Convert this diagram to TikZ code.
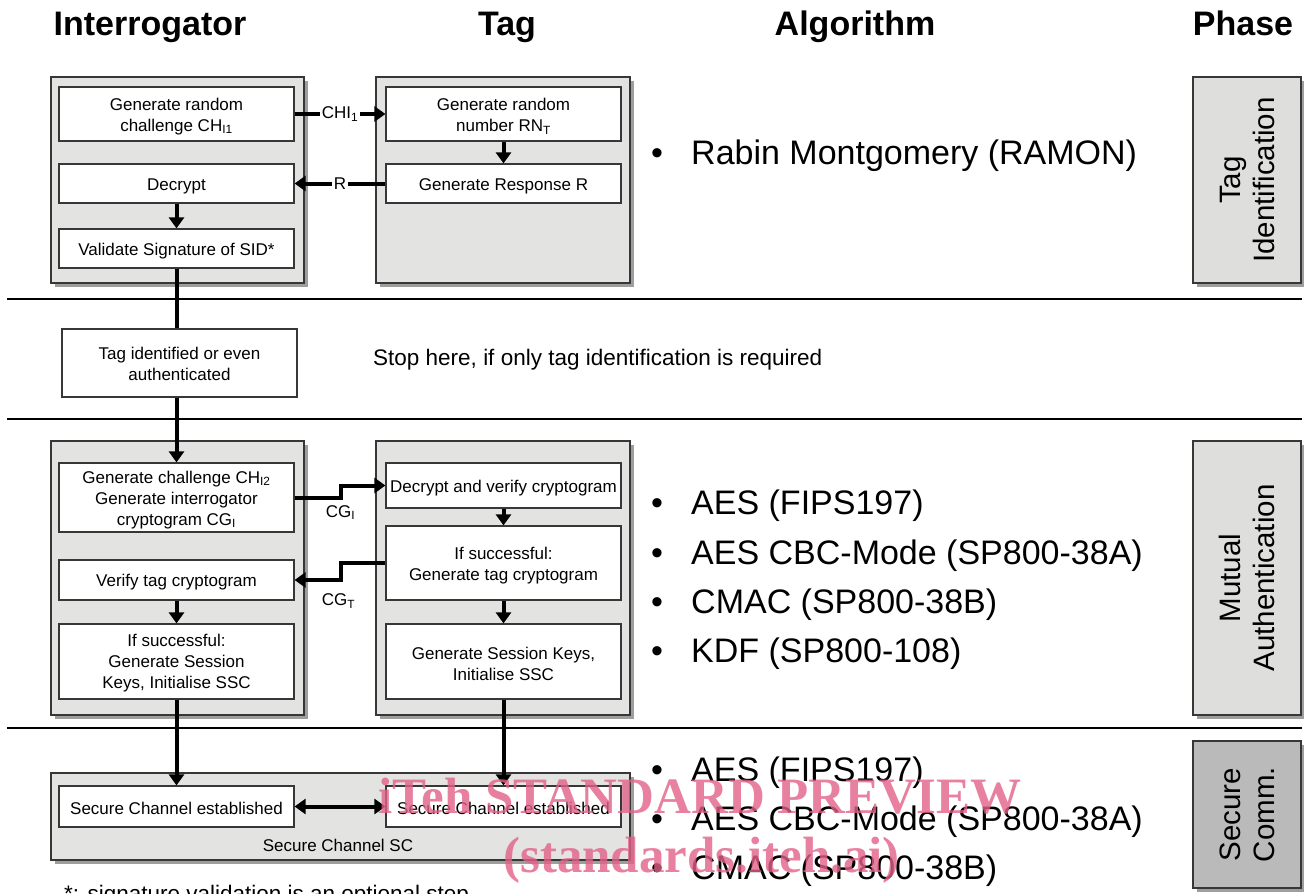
\documentclass[tikz,border=0pt]{standalone}
\usepackage{fontspec}
\setmainfont{Liberation Sans}
\newfontfamily\wmfont{Liberation Serif}
\usetikzlibrary{arrows.meta,shadows,calc}
\definecolor{panelgray}{RGB}{227,227,225}
\definecolor{phasegray}{RGB}{222,222,220}
\definecolor{phasedark}{RGB}{186,186,186}
\definecolor{edgegray}{RGB}{55,55,55}
\definecolor{wmpink}{RGB}{226,96,136}
\begin{document}
\begin{tikzpicture}[x=1pt,y=-1pt,
  panel/.style={draw=edgegray, line width=1.3pt, fill=panelgray, inner sep=0pt,
    drop shadow={shadow xshift=4pt, shadow yshift=-4pt, fill=black!38, opacity=1}},
  phasebox/.style={panel, minimum width=108pt},
  box/.style={draw=edgegray, line width=1.2pt, fill=white, inner sep=0pt, minimum width=235pt},
  btxt/.style={align=center, inner sep=0pt, font=\fontsize{17}{21}\selectfont},
  lbl/.style={fill=white, inner sep=2pt, font=\fontsize{17}{21}\selectfont},
  plainlbl/.style={inner sep=1pt, font=\fontsize{17}{21}\selectfont},
  head/.style={anchor=base, inner sep=0pt, font=\fontsize{34}{40}\selectfont\bfseries},
  alg/.style={anchor=base west, inner sep=0pt, font=\fontsize{34}{40}\selectfont},
  bul/.style={anchor=base, inner sep=0pt, font=\fontsize{34}{40}\selectfont},
  phasetxt/.style={rotate=90, align=center, inner sep=0pt, font=\fontsize{29.5}{34}\selectfont},
  note/.style={anchor=base west, inner sep=0pt, font=\fontsize{22.5}{27}\selectfont},
  sep/.style={line width=2pt},
  conn/.style={line width=4pt},
  arr/.style={conn, -{Triangle[width=15pt,length=11pt]}},
  darr/.style={conn, {Triangle[width=15pt,length=11pt]}-{Triangle[width=15pt,length=11pt]}},
  wm/.style={anchor=base west, inner sep=0pt, text=wmpink, text opacity=0.8,
    font=\wmfont\bfseries\fontsize{51}{51}\selectfont}
]
\useasboundingbox (0,0) rectangle (1304,894);

% headers
\node[head] (hI) at (150,35) {Interrogator};
\node[head] (hT) at (507,35) {Tag};
\node[head] (hA) at (855,35) {Algorithm};
\node[head] (hP) at (1243,35) {Phase};

% separators
\draw[sep] (7,299) -- (1302,299);
\draw[sep] (7,419) -- (1302,419);
\draw[sep] (7,728) -- (1302,728);

% panels
\node[panel, minimum width=253pt, minimum height=206pt] (pI1) at (177.5,180) {};
\node[panel, minimum width=254pt, minimum height=206pt] (pT1) at (503,180) {};
\node[panel, minimum width=253pt, minimum height=274pt] (pI2) at (177.5,578) {};
\node[panel, minimum width=254pt, minimum height=274pt] (pT2) at (503,578) {};
\node[panel, minimum width=579pt, minimum height=87pt] (pSC) at (340.5,816.5) {};

% phase boxes
\node[phasebox, fill=phasegray, minimum height=206pt] (ph1) at (1247,180) {};
\node[phasebox, fill=phasegray, minimum height=274pt] (ph2) at (1247,578) {};
\node[phasebox, fill=phasedark, minimum height=147pt] (ph3) at (1247,814.5) {};
\node[phasetxt] (ph1t) at (ph1) {Tag\\Identification};
\node[phasetxt] (ph2t) at (ph2) {Mutual\\Authentication};
\node[phasetxt] (ph3t) at (ph3) {Secure\\Comm.};

% tag identification boxes
\node[box, minimum height=54pt] (b1) at (176.5,114) {};
\node[box, minimum height=39pt] (b2) at (176.5,183.5) {};
\node[box, minimum height=39pt] (b3) at (176.5,248.5) {};
\node[box, minimum height=54pt] (t1) at (503.5,114) {};
\node[box, minimum height=39pt] (t2) at (503.5,183.5) {};
\node[box, minimum height=68pt] (tid) at (179.5,363) {};
\node[btxt] (b1t) at ($(b1)+(0,2.5)$) {Generate random\\challenge CH\textsubscript{I1}};
\node[btxt] (b2t) at ($(b2)+(0,2.5)$) {Decrypt};
\node[btxt] (b3t) at ($(b3)+(0,2.5)$) {Validate Signature of SID*};
\node[btxt] (t1t) at ($(t1)+(0,2.5)$) {Generate random\\number RN\textsubscript{T}};
\node[btxt] (t2t) at ($(t2)+(0,2.5)$) {Generate Response R};
\node[btxt] (tidt) at ($(tid)+(0,1)$) {Tag identified or even\\authenticated};
\node[note, anchor=west] (stop) at (373,360) {Stop here, if only tag identification is required};

% mutual authentication boxes
\node[box, minimum height=69pt] (c1) at (176.5,497.5) {};
\node[box, minimum height=40pt] (c2) at (176.5,580) {};
\node[box, minimum height=75pt] (c3) at (176.5,661.5) {};
\node[box, minimum height=45pt] (d1) at (503.5,485.5) {};
\node[box, minimum height=74pt] (d2) at (503.5,563) {};
\node[box, minimum height=75pt] (d3) at (503.5,661.5) {};
\node[btxt] (c1t) at ($(c1)+(0,2.5)$) {Generate challenge CH\textsubscript{I2}\\Generate interrogator\\cryptogram CG\textsubscript{I}};
\node[btxt] (c2t) at ($(c2)+(0,2.5)$) {Verify tag cryptogram};
\node[btxt] (c3t) at ($(c3)+(0,2)$) {If successful:\\Generate Session\\Keys, Initialise SSC};
\node[btxt] (d1t) at ($(d1)+(0,2.5)$) {Decrypt and verify cryptogram};
\node[btxt] (d2t) at ($(d2)+(0,2.5)$) {If successful:\\Generate tag cryptogram};
\node[btxt] (d3t) at ($(d3)+(0,2)$) {Generate Session Keys,\\Initialise SSC};

% secure channel
\node[box, minimum height=41pt] (s1) at (176.5,806.5) {};
\node[box, minimum height=41pt] (s2) at (503.5,806.5) {};
\node[btxt] (s1t) at ($(s1)+(0,2)$) {Secure Channel established};
\node[btxt] (s2t) at ($(s2)+(0,2)$) {Secure Channel established};
\node[plainlbl] (sclbl) at (338,845) {Secure Channel SC};

% connectors
\draw[arr] (b1.east) -- node[lbl] (chil) {CHI\textsubscript{1}} (t1.west);
\draw[arr] (t2.west) -- node[lbl] (rl) {R} (b2.east);
\draw[arr] (t1.south) -- (t2.north);
\draw[arr] (b2.south) -- (b3.north);
\draw[conn] (b3.south) -- (b3.south |- tid.north);
\draw[arr] (tid.south -| c1.north) -- (c1.north);
\draw[arr] (c1.east) -- ++(46,0) |- (d1.west);
\node[plainlbl] (cgi) at ($(c1.east)+(46,15)$) {CG\textsubscript{I}};
\draw[arr] (d2.west) -- ++(-44,0) |- (c2.east);
\node[plainlbl] (cgt) at ($(c2.east)+(44,21)$) {CG\textsubscript{T}};
\draw[arr] (c2.south) -- (c3.north);
\draw[arr] (d1.south) -- (d2.north);
\draw[arr] (d2.south) -- (d3.north);
\draw[arr] (c3.south) -- (s1.north);
\draw[arr] (d3.south) -- (s2.north);
\draw[darr] (s1.east) -- (s2.west);

% algorithms
\node[bul] (u1) at (657,164) {•};
\node[alg] (a1) at (691,164) {Rabin Montgomery (RAMON)};
\node[bul] (u2) at (657,514) {•};
\node[alg] (a2) at (691,514) {AES (FIPS197)};
\node[bul] (u3) at (657,564) {•};
\node[alg] (a3) at (691,564) {AES CBC-Mode (SP800-38A)};
\node[bul] (u4) at (657,613) {•};
\node[alg] (a4) at (691,613) {CMAC (SP800-38B)};
\node[bul] (u5) at (657,662) {•};
\node[alg] (a5) at (691,662) {KDF (SP800-108)};
\node[bul] (u6) at (657,781) {•};
\node[alg] (a6) at (691,781) {AES (FIPS197)};
\node[bul] (u7) at (657,830) {•};
\node[alg] (a7) at (691,830) {AES CBC-Mode (SP800-38A)};
\node[bul] (u8) at (657,879) {•};
\node[alg] (a8) at (691,879) {CMAC (SP800-38B)};

% footnote
\node[note] (fn) at (64,901) {*: signature validation is an optional step};

% watermark
\node[wm] (wm1) at (378,813) {iTeh STANDARD PREVIEW};
\node[wm] (wm2) at (503,872) {(standards.iteh.ai)};
\end{tikzpicture}
\end{document}
